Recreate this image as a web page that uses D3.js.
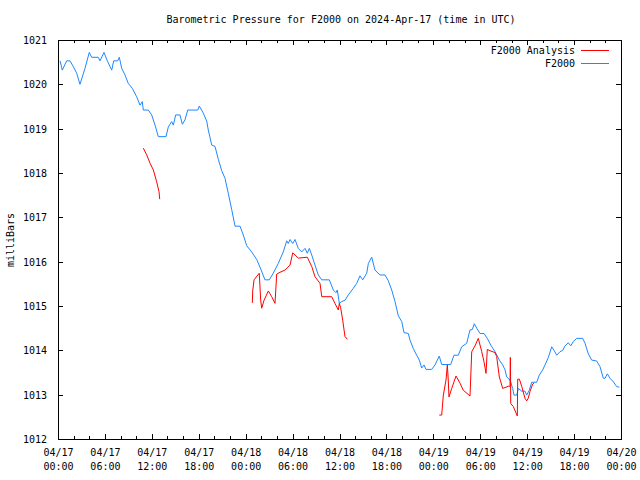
<!DOCTYPE html>
<html>
<head>
<meta charset="utf-8">
<script src="https://cdn.jsdelivr.net/npm/d3@7"></script>
<style>
  html, body { margin: 0; padding: 0; background: #fff; }
  svg { display: block; }
  text { font-family: "DejaVu Sans Mono", "Liberation Mono", monospace; font-size: 10px; fill: #000; }
</style>
</head>
<body>
<svg id="chart" width="640" height="480"></svg>
<script>
// ---- data (hours since 2024-04-17 00:00 UTC, pressure in millibars) ----
const chartTitle = "Barometric Pressure for F2000 on 2024-Apr-17 (time in UTC)";
const yLabel = "milliBars";
const seriesNames = ["F2000 Analysis", "F2000"];
const yTicks = [1012, 1013, 1014, 1015, 1016, 1017, 1018, 1019, 1020, 1021];
const xTickHours = [0, 6, 12, 18, 24, 30, 36, 42, 48, 54, 60, 66, 72];

const obsHours = [0.26,0.55,1.11,1.53,1.96,2.39,2.81,3.45,4.0,4.31,5.15,5.37,5.88,6.36,6.87,7.12,7.64,7.84,8.15,8.57,8.99,9.5,10.06,10.49,10.78,10.91,11.55,11.98,12.41,12.83,13.81,14.11,14.54,14.75,15.05,15.6,15.9,16.24,16.59,17.87,18.07,18.58,19.02,19.22,19.66,20.08,20.5,20.94,21.36,21.78,22.21,22.64,23.28,23.7,24.13,24.77,25.41,25.96,26.47,27.02,27.53,28.17,28.81,29.25,29.45,29.67,30.02,30.31,30.73,31.17,31.59,31.88,32.14,32.45,32.87,33.29,33.73,34.7,35.21,35.55,35.72,35.98,36.28,36.7,37.13,37.77,38.2,38.62,38.97,39.48,39.69,40.12,40.54,41.18,41.82,42.24,42.68,43.1,43.52,43.96,44.25,44.8,45.02,45.44,45.87,46.21,46.51,46.81,47.06,47.79,48.21,48.76,49.07,50.22,50.64,51.19,51.63,52.27,52.69,52.99,53.24,53.55,53.97,54.48,54.9,55.34,55.89,56.44,56.87,57.17,57.38,57.81,58.15,58.32,58.66,58.87,59.3,59.72,59.94,60.27,60.58,61.22,61.55,61.99,62.28,62.71,63.14,63.43,63.78,64.2,64.55,64.84,65.26,65.57,65.9,66.34,67.1,67.4,67.82,68.25,68.89,69.32,69.74,69.96,70.25,70.6,71.02,71.45,71.79];
const obsPressure = [1020.53,1020.32,1020.53,1020.53,1020.4,1020.25,1020.0,1020.36,1020.72,1020.61,1020.61,1020.53,1020.72,1020.51,1020.32,1020.53,1020.53,1020.61,1020.36,1020.21,1020.02,1019.91,1019.72,1019.53,1019.61,1019.42,1019.42,1019.31,1019.08,1018.82,1018.82,1019.04,1019.16,1019.08,1019.31,1019.31,1019.1,1019.2,1019.42,1019.42,1019.51,1019.35,1019.17,1018.97,1018.63,1018.6,1018.31,1018.05,1017.88,1017.54,1017.18,1016.8,1016.8,1016.6,1016.36,1016.22,1016.05,1015.82,1015.59,1015.59,1015.74,1015.96,1016.22,1016.47,1016.41,1016.5,1016.41,1016.5,1016.3,1016.22,1016.3,1016.19,1016.3,1016.15,1015.92,1015.7,1015.59,1015.59,1015.36,1015.3,1015.36,1015.06,1015.1,1015.13,1015.25,1015.4,1015.51,1015.68,1015.59,1015.74,1015.96,1016.1,1015.81,1015.7,1015.7,1015.57,1015.36,1015.1,1014.78,1014.65,1014.4,1014.38,1014.23,1014.04,1013.89,1013.78,1013.6,1013.67,1013.57,1013.57,1013.67,1013.87,1013.68,1013.68,1013.89,1013.89,1014.08,1014.16,1014.46,1014.47,1014.6,1014.5,1014.38,1014.38,1014.27,1014.12,1013.97,1013.78,1013.67,1013.56,1013.4,1013.33,1013.14,1012.99,1012.99,1013.14,1013.08,1013.08,1012.99,1013.1,1013.28,1013.28,1013.44,1013.56,1013.67,1013.84,1014.08,1014.0,1013.89,1013.97,1014.0,1014.1,1014.17,1014.1,1014.2,1014.27,1014.27,1014.16,1013.92,1013.78,1013.76,1013.63,1013.37,1013.37,1013.47,1013.37,1013.29,1013.18,1013.17];

// analysis series: null marks a gap between segments
const anaHours = [10.91,11.34,11.77,12.19,12.62,12.92,13.01, 13.5,
  24.85,24.9,25.07,25.74,25.92,26.05,26.35,26.9,27.33,27.75,27.97,28.39,29.03,29.67,30.02,30.73,31.88,32.45,32.87,33.51,33.73,35.0,35.42,35.85,35.98,36.15,36.41,36.7,37.0, 40,
  48.76,49.07,49.28,49.62,49.79,49.91,50.0,50.35,50.9,51.41,51.83,52.69,52.91,53.33,53.75,54.19,54.48,54.74,54.9,55.25,55.89,56.1,56.44,56.87,57.59,57.81,57.85,57.9,58.23,58.74,58.79,59.0,59.3,59.72,59.94,60.14,60.36,60.71,60.87];
const anaPressure = [1018.56,1018.41,1018.22,1018.07,1017.8,1017.58,1017.41, null,
  1015.07,1015.34,1015.59,1015.74,1015.13,1014.95,1015.13,1015.34,1015.21,1015.06,1015.72,1015.76,1015.81,1015.92,1016.2,1016.08,1016.1,1015.89,1015.66,1015.51,1015.21,1015.21,1015.06,1014.91,1015.06,1014.96,1014.68,1014.31,1014.25, null,
  1012.54,1012.54,1012.99,1013.33,1013.67,1013.33,1012.95,1013.14,1013.42,1013.26,1013.1,1012.97,1013.97,1014.1,1014.27,1013.97,1013.74,1013.48,1014.02,1013.99,1013.95,1013.86,1013.4,1013.14,1013.19,1013.19,1013.84,1012.8,1012.73,1012.52,1013.35,1013.35,1013.19,1012.92,1012.86,1012.92,1013.07,1013.24,1013.26];

// ---- chart ----
const START = Date.UTC(2024, 3, 17, 0, 0);
const toDate = h => new Date(START + h * 3600000);
const L = 58, R = 621, T = 40, B = 439;

const svg = d3.select("#chart");
const x = d3.scaleUtc().domain([toDate(0), toDate(72)]).range([L, R]);
const y = d3.scaleLinear().domain([1012, 1021]).range([B, T]);

const fmtDay = d3.utcFormat("%m/%d");
const fmtTime = d3.utcFormat("%H:%M");
const majorDates = xTickHours.map(toDate);
const minorDates = d3.range(0, 73, 2).filter(h => h % 6 !== 0).map(toDate);

// bottom axis major
const gB = svg.append("g").attr("transform", `translate(0,${B})`)
  .call(d3.axisBottom(x).tickValues(majorDates).tickSizeInner(-5).tickSizeOuter(0).tickPadding(9).tickFormat(""));
gB.selectAll(".tick").append("text")
  .attr("text-anchor", "middle").attr("y", 17).attr("fill", "#000")
  .each(function(d) {
    const t = d3.select(this);
    t.append("tspan").attr("x", 0).text(fmtDay(d));
    t.append("tspan").attr("x", 0).attr("dy", 14).text(fmtTime(d));
  });
svg.append("g").attr("transform", `translate(0,${B})`)
  .call(d3.axisBottom(x).tickValues(minorDates).tickSizeInner(-3).tickSizeOuter(0).tickFormat(""));
// top mirror
svg.append("g").attr("transform", `translate(0,${T})`)
  .call(d3.axisTop(x).tickValues(majorDates).tickSizeInner(-5).tickSizeOuter(0).tickFormat(""));
svg.append("g").attr("transform", `translate(0,${T})`)
  .call(d3.axisTop(x).tickValues(minorDates).tickSizeInner(-3).tickSizeOuter(0).tickFormat(""));
// left axis
svg.append("g").attr("transform", `translate(${L},0)`)
  .call(d3.axisLeft(y).tickValues(yTicks).tickSizeInner(-5).tickSizeOuter(0).tickPadding(11).tickFormat(d3.format("d")))
  .selectAll("text").attr("fill", "#000").attr("dy", "0.35em");
// right mirror
svg.append("g").attr("transform", `translate(${R},0)`)
  .call(d3.axisRight(y).tickValues(yTicks).tickSizeInner(-5).tickSizeOuter(0).tickFormat(""));

svg.selectAll(".domain").remove();
svg.selectAll(".tick line").attr("stroke", "#000").attr("shape-rendering", "crispEdges");
svg.selectAll("g").attr("font-family", null).attr("font-size", null);

// frame
svg.append("rect").attr("x", L).attr("y", T).attr("width", R - L).attr("height", B - T)
  .attr("fill", "none").attr("stroke", "#000").attr("stroke-width", 1).attr("shape-rendering", "crispEdges");

// lines
const obs = obsHours.map((h, i) => ({ t: toDate(h), v: obsPressure[i] }));
const ana = anaHours.map((h, i) => ({ t: toDate(h), v: anaPressure[i] }));
const line = d3.line().defined(d => d.v !== null).x(d => x(d.t)).y(d => y(d.v));

svg.append("path").datum(obs).attr("d", line)
  .attr("fill", "none").attr("stroke", "#1e88ff").attr("stroke-width", 1);
svg.append("path").datum(ana).attr("d", line)
  .attr("fill", "none").attr("stroke", "#ff0000").attr("stroke-width", 1);

// title
svg.append("text").attr("x", 341).attr("y", 23).attr("text-anchor", "middle").text(chartTitle);
// y label
svg.append("text").attr("transform", "translate(14,240) rotate(-90)").attr("text-anchor", "middle").text(yLabel);

// legend
const legendColors = ["#ff0000", "#1e88ff"];
seriesNames.forEach((name, i) => {
  const yy = 50 + i * 13;
  svg.append("text").attr("x", 575).attr("y", yy).attr("dy", "0.35em").attr("text-anchor", "end").text(name);
  svg.append("line").attr("x1", 581).attr("x2", 609).attr("y1", yy).attr("y2", yy)
    .attr("stroke", legendColors[i]).attr("stroke-width", 1).attr("shape-rendering", "crispEdges");
});
</script>
</body>
</html>
